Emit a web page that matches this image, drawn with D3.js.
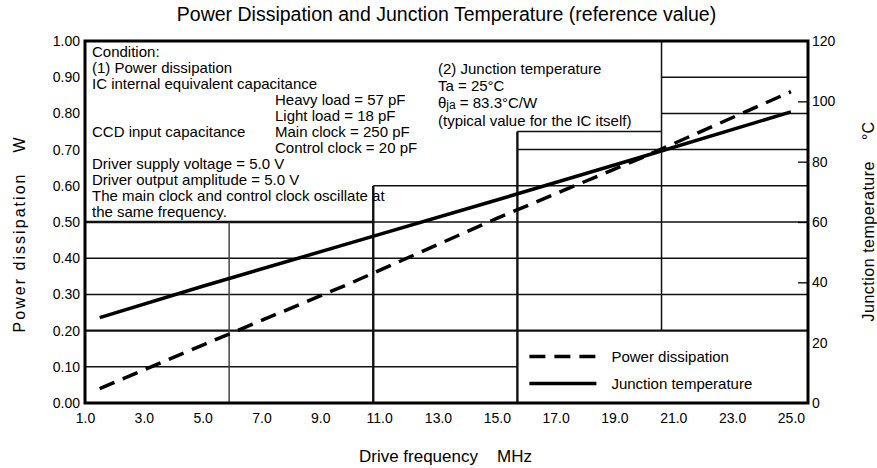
<!DOCTYPE html>
<html>
<head>
<meta charset="UTF-8">
<title>Power Dissipation and Junction Temperature</title>
<script src="https://cdn.jsdelivr.net/npm/d3@7"></script>
<style>
body { margin: 0; background: #fff; }
text { font-family: "Liberation Sans", Arial, sans-serif; fill: #000; }
</style>
</head>
<body>
<svg id="chart" width="877" height="468"></svg>
<script>
// values
var freq = [1.5, 5, 10, 15, 20, 25];                  // MHz
var powerW = [0.04, 0.16, 0.33, 0.51, 0.68, 0.86];    // W (left axis)
var junctionC = [28.3, 38.7, 53.0, 67.3, 81.8, 96.5]; // degC (right axis)

var xTicks = [1, 3, 5, 7, 9, 11, 13, 15, 17, 19, 21, 23, 25];
var powerTicks = [0, 0.1, 0.2, 0.3, 0.4, 0.5, 0.6, 0.7, 0.8, 0.9, 1.0];
var tempTicks = [0, 20, 40, 60, 80, 100, 120];

// the background table: column edges (MHz) and ruled segments
var gridCols = [1, 5.9, 10.8, 15.7, 20.6, 25.58];
// [power, fromCol, toCol, thick]
var hRules = [
    [0.1, 0, 3, 0], [0.2, 0, 5, 1], [0.3, 0, 5, 0], [0.4, 0, 5, 0],
    [0.5, 0, 2, 1], [0.5, 2, 5, 0], [0.6, 2, 5, 0], [0.7, 3, 5, 0],
    [0.75, 3, 4, 0], [0.8, 4, 5, 0], [0.9, 4, 5, 0]
];
// [col, fromPower, toPower, thick]
var vRules = [[1, 0, 0.5, 0], [2, 0, 0.6, 1], [3, 0, 0.75, 1], [4, 0.2, 1.0, 0]];

var condLeft = [
    "Condition:", "(1) Power dissipation", "IC internal equivalent capacitance",
    "", "", "CCD input capacitance", "",
    "Driver supply voltage = 5.0 V", "Driver output amplitude = 5.0 V",
    "The main clock and control clock oscillate at", "the same frequency."
];
var condMid = ["", "", "", "Heavy load = 57 pF", "Light load = 18 pF",
    "Main clock = 250 pF", "Control clock = 20 pF"];

var W = 877, H = 468;
var m = {top: 41, right: 69, bottom: 65, left: 85};

var svg = d3.select("#chart");

var x = d3.scaleLinear().domain([1, 25.58]).range([m.left, W - m.right]);
var yP = d3.scaleLinear().domain([0, 1]).range([H - m.bottom, m.top]);
var yT = d3.scaleLinear().domain([0, 120]).range([H - m.bottom, m.top]);

// table rules
svg.append("g").selectAll("line").data(hRules).enter().append("line")
    .attr("x1", function(d){ return x(gridCols[d[1]]); })
    .attr("x2", function(d){ return x(gridCols[d[2]]); })
    .attr("y1", function(d){ return yP(d[0]); })
    .attr("y2", function(d){ return yP(d[0]); })
    .attr("stroke", "#111")
    .attr("stroke-width", function(d){ return d[3] ? 2.4 : 1.5; });

svg.append("g").selectAll("line").data(vRules).enter().append("line")
    .attr("x1", function(d){ return x(gridCols[d[0]]); })
    .attr("x2", function(d){ return x(gridCols[d[0]]); })
    .attr("y1", function(d){ return yP(d[1]); })
    .attr("y2", function(d){ return yP(d[2]); })
    .attr("stroke", function(d){ return d[0] == 1 ? "#444" : "#111"; })
    .attr("stroke-width", function(d){ return d[3] ? 2.4 : 1.5; });

// frame
svg.append("rect")
    .attr("x", m.left).attr("y", m.top)
    .attr("width", W - m.left - m.right).attr("height", H - m.top - m.bottom)
    .attr("fill", "none").attr("stroke", "#000").attr("stroke-width", 3);

// axes
var gl = svg.append("g").attr("transform", "translate(" + m.left + ",0)")
    .call(d3.axisLeft(yP).tickValues(powerTicks).tickFormat(d3.format(".2f"))
        .tickSize(0).tickPadding(5));
var gr = svg.append("g").attr("transform", "translate(" + (W - m.right) + ",0)")
    .call(d3.axisRight(yT).tickValues(tempTicks).tickSize(-10).tickPadding(4));
var gb = svg.append("g").attr("transform", "translate(0," + (H - m.bottom) + ")")
    .call(d3.axisBottom(x).tickValues(xTicks).tickFormat(d3.format(".1f"))
        .tickSize(0).tickPadding(10));

[gl, gr, gb].forEach(function(g){
    g.select(".domain").remove();
    g.selectAll("text").attr("font-size", 14).attr("fill", "#000")
        .attr("font-family", "Liberation Sans, Arial, sans-serif");
    g.selectAll("line").attr("stroke", "#000").attr("stroke-width", 1.3);
});
gr.selectAll(".tick").filter(function(d){ return d == 0 || d == 20 || d == 120; })
    .select("line").remove();

// curves
var line = d3.line().x(function(d){ return x(d[0]); });

svg.append("path")
    .datum(d3.zip(freq, powerW))
    .attr("d", line.y(function(d){ return yP(d[1]); }))
    .attr("fill", "none").attr("stroke", "#000").attr("stroke-width", 3.5)
    .attr("stroke-dasharray", "16,9");

svg.append("path")
    .datum(d3.zip(freq, junctionC))
    .attr("d", line.y(function(d){ return yT(d[1]); }))
    .attr("fill", "none").attr("stroke", "#000").attr("stroke-width", 3.5);

// legend inside the lower right cell
var lx = x(gridCols[3]), ly = yP(0.2);
var leg = [["Power dissipation", "16,9", 26], ["Junction temperature", null, 53]];
leg.forEach(function(d){
    svg.append("line")
        .attr("x1", lx + 12).attr("x2", lx + 79)
        .attr("y1", ly + d[2]).attr("y2", ly + d[2])
        .attr("stroke", "#000").attr("stroke-width", 3.5)
        .attr("stroke-dasharray", d[1]);
    svg.append("text").attr("x", lx + 94).attr("y", ly + d[2] + 5)
        .attr("font-size", 15).text(d[0]);
});

// condition notes
var notes = svg.append("g").attr("font-size", 15);
condLeft.forEach(function(t, i){
    if (t) notes.append("text").attr("x", 92).attr("y", 56.7 + i * 16).text(t);
});
condMid.forEach(function(t, i){
    if (t) notes.append("text").attr("x", 275).attr("y", 56.7 + i * 16).text(t);
});
notes.append("text").attr("x", 438).attr("y", 74).text("(2) Junction temperature");
notes.append("text").attr("x", 438).attr("y", 91).text("Ta = 25°C");
var th = notes.append("text").attr("x", 438).attr("y", 107.5);
th.append("tspan").text("θ");
th.append("tspan").attr("dy", 1.5).attr("font-size", 12).text("ja");
th.append("tspan").attr("dy", -1.5).text(" = 83.3°C/W");
notes.append("text").attr("x", 438).attr("y", 125.5).text("(typical value for the IC itself)");

// titles
svg.append("text").attr("x", (m.left + W - m.right) / 2).attr("y", 21)
    .attr("text-anchor", "middle").attr("font-size", 19.5)
    .text("Power Dissipation and Junction Temperature (reference value)");

svg.append("text").attr("x", 478).attr("y", 462).attr("text-anchor", "end")
    .attr("font-size", 17).text("Drive frequency");
svg.append("text").attr("x", 497).attr("y", 462).attr("font-size", 17).text("MHz");

function vtext(cx, cy, s, len){
    var t = svg.append("text")
        .attr("transform", "translate(" + cx + "," + cy + ") rotate(-90)")
        .attr("text-anchor", "middle").attr("dominant-baseline", "central")
        .attr("font-size", 16).text(s);
    if (len) t.attr("textLength", len).attr("lengthAdjust", "spacing");
}
vtext(19.5, 253.5, "Power dissipation", 158);
vtext(19.5, 145, "W");
vtext(868, 241.5, "Junction temperature", 160);
vtext(868, 131, "°C");
</script>
</body>
</html>
